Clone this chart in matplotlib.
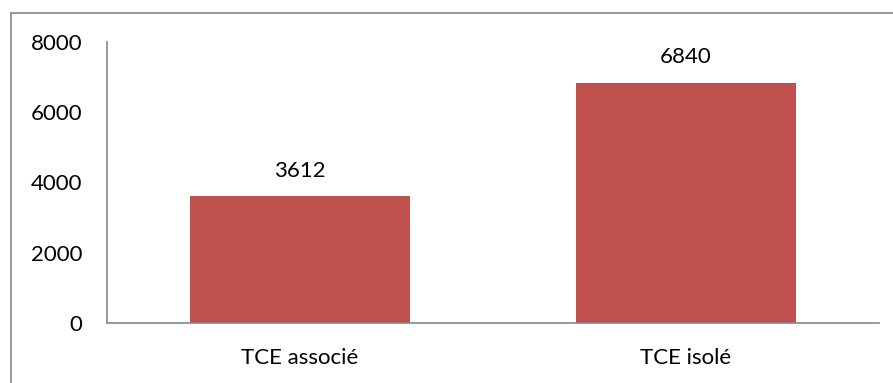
import matplotlib.pyplot as plt
from matplotlib.lines import Line2D

categories = ["TCE associé", "TCE isolé"]
values = [3612, 6840]
yticks = [0, 2000, 4000, 6000, 8000]

W, H = 893, 383
plt.rcParams['font.family'] = ['Lato', 'DejaVu Sans']

fig = plt.figure(figsize=(W / 100, H / 100), dpi=100)
ax = fig.add_axes([107 / W, 1 - 323 / H, (879 - 107) / W, (323 - 42) / H])

bar_color = '#C0504D'
axis_color = '#868686'
fs = 16

bars = ax.bar(range(len(categories)), values, width=0.57, color=bar_color)
for rect, v in zip(bars, values):
    ax.annotate(str(v), (rect.get_x() + rect.get_width() / 2, v),
                xytext=(0, 11), textcoords='offset points',
                ha='center', va='bottom', fontsize=fs, color='black')

ax.set_xlim(-0.5, len(categories) - 0.5)
ax.set_ylim(0, 8000)
ax.set_yticks(yticks)
ax.set_xticks(range(len(categories)))
ax.set_xticklabels(categories)
ax.tick_params(axis='both', length=0, labelsize=fs, colors='black')
ax.tick_params(axis='y', pad=18)
ax.tick_params(axis='x', pad=18)

for side in ('top', 'right'):
    ax.spines[side].set_visible(False)
for side in ('left', 'bottom'):
    ax.spines[side].set_color(axis_color)
    ax.spines[side].set_linewidth(1.2)

# chart area frame (only top and left edges fall inside the image)
fig.add_artist(Line2D([11 / W, 1], [1 - 12.5 / H, 1 - 12.5 / H],
                      transform=fig.transFigure, color=axis_color, lw=1.2))
fig.add_artist(Line2D([11 / W, 11 / W], [0, 1 - 12.5 / H],
                      transform=fig.transFigure, color=axis_color, lw=1.2))

fig.savefig('out.png', dpi=100)
